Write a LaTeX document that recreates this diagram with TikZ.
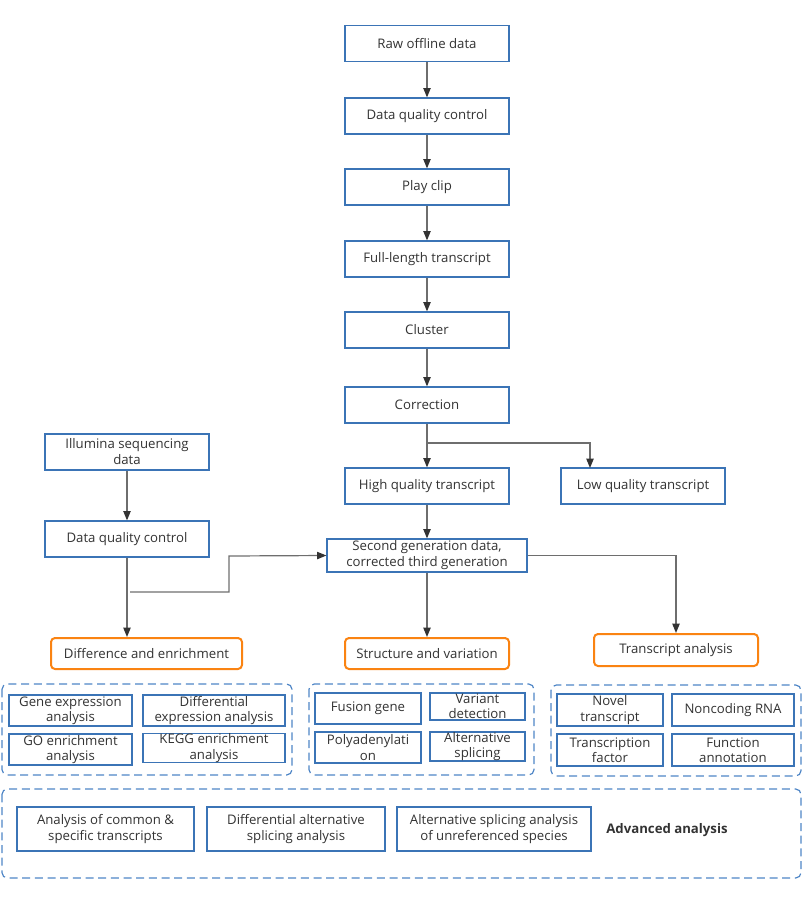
\documentclass[tikz,border=0pt]{standalone}
\usepackage{fontspec}
\setmainfont{Open Sans}
\usetikzlibrary{arrows.meta,calc}
\definecolor{boxblue}{HTML}{3B74B6}
\definecolor{grpblue}{HTML}{4F86C6}
\definecolor{orng}{HTML}{FA8312}
\definecolor{txt}{HTML}{333333}
\definecolor{lin}{HTML}{6E6E6E}
\begin{document}
\begin{tikzpicture}[x=0.75pt,y=-0.75pt,
  every node/.style={font=\fontsize{9.9}{12}\selectfont, text=txt},
  box/.style={draw=boxblue, line width=0.9pt, fill=white, align=center, inner sep=0pt,
    minimum width=123pt, minimum height=27pt},
  obox/.style={draw=orng, line width=1.5pt, rounded corners=3pt, fill=white, align=center,
    inner sep=0pt, minimum width=123pt, minimum height=23.25pt},
  sbox/.style={draw=boxblue, line width=0.9pt, fill=white, align=center, inner sep=0pt,
    font=\fontsize{9.9}{11.5}\selectfont},
  grp/.style={draw=grpblue, line width=0.9pt, dash pattern=on 6pt off 3.5pt, rounded corners=4pt},
  conn/.style={draw=lin, line width=0.9pt, -{Triangle[length=7pt,width=5.5pt,color=txt]}},
  plain/.style={draw=lin, line width=0.9pt}
]
\useasboundingbox (0,0) rectangle (802,903);

% main chain
\node[box] (raw) at (427,43.5) {Raw offline data};
\node[box] (dqc) at (427,116) {Data quality control};
\node[box] (play) at (427,187) {Play clip};
\node[box] (full) at (427,259) {Full-length transcript};
\node[box] (clu) at (427,330) {Cluster};
\node[box] (cor) at (427,405) {Correction};
\node[box] (hq) at (427,486) {High quality transcript};
\node[box] (lq) at (643,486) {Low quality transcript};
\node[box] (ill) at (127,452) {Illumina sequencing\\data};
\node[box] (dqc2) at (127,539) {Data quality control};
\node[box, minimum width=150pt, minimum height=24.75pt] (sg) at (427,555.5)
  {Second generation data,\\corrected third generation};

\node[obox, minimum width=143.25pt] (diff) at (146.5,653.5) {Difference and enrichment};
\node[obox] (struct) at (427,653.5) {Structure and variation};
\node[obox, minimum height=24pt] (ta) at (676,650) {Transcript analysis};

\coordinate (cb) at (427,443);
\coordinate (lqin) at (590,468);
\coordinate (br) at (130,592);
\coordinate (bend) at (229,556);

\draw[conn] (raw) -- (dqc);
\draw[conn] (dqc) -- (play);
\draw[conn] (play) -- (full);
\draw[conn] (full) -- (clu);
\draw[conn] (clu) -- (cor);
\draw[conn] (cor) -- (hq);
\draw[conn] (cb) -| (lqin);
\draw[conn] (hq) -- (sg);
\draw[conn] (ill) -- (dqc2);
\draw[conn] (dqc2.south) -- (dqc2.south |- diff.north);
\draw[conn] (br) -| (bend) -- (sg.west);
\draw[conn] (sg.south) -- (struct.north);
\draw[conn] (sg.east) -| (ta.north);

% groups
\draw[grp] (2,684) rectangle (292,775);
\draw[grp] (309,684) rectangle (534,775);
\draw[grp] (551,685) rectangle (801,776);
\draw[grp] (2,789) rectangle (801,878);

\node[sbox, minimum width=92.25pt, minimum height=23.25pt] (gea) at (70.5,710.5) {Gene expression\\analysis};
\node[sbox, minimum width=106.5pt, minimum height=23.25pt] (dea) at (214,710.5) {Differential\\expression analysis};
\node[sbox, minimum width=92.25pt, minimum height=23.25pt] (go) at (70.5,749.5) {GO enrichment\\analysis};
\node[sbox, minimum width=106.5pt, minimum height=21pt] (kegg) at (214,748) {KEGG enrichment\\analysis};

\node[sbox, minimum width=79.5pt, minimum height=23.25pt] (fus) at (368,708.5) {Fusion gene};
\node[sbox, minimum width=71.25pt, minimum height=20.25pt] (var) at (477.5,706.5) {Variant\\detection};
\node[sbox, minimum width=79.5pt, minimum height=23.25pt] (poly) at (368,747.5) {Polyadenylati\\on};
\node[sbox, minimum width=71.25pt, minimum height=21.75pt] (alt) at (477.5,746.5) {Alternative\\splicing};

\node[sbox, minimum width=79.5pt, minimum height=24pt] (nov) at (610,710) {Novel\\transcript};
\node[sbox, minimum width=91.5pt, minimum height=24pt] (nc) at (733,710) {Noncoding RNA};
\node[sbox, minimum width=79.5pt, minimum height=24pt] (tf) at (610,750) {Transcription\\factor};
\node[sbox, minimum width=91.5pt, minimum height=24pt] (fa) at (733,750) {Function\\annotation};

\node[sbox, minimum width=132.75pt, minimum height=33pt, font=\fontsize{9.9}{12}\selectfont] (com) at (105.5,829) {Analysis of common \&\\specific transcripts};
\node[sbox, minimum width=133.5pt, minimum height=33pt, font=\fontsize{9.9}{12}\selectfont] (das) at (296,829) {Differential alternative\\splicing analysis};
\node[sbox, minimum width=145.5pt, minimum height=33pt, font=\fontsize{9.9}{12}\selectfont] (asu) at (494,829) {Alternative splicing analysis\\of unreferenced species};
\node[font=\fontsize{9.9}{12}\selectfont\bfseries] (adv) at (667,830) {Advanced analysis};
\end{tikzpicture}
\end{document}
